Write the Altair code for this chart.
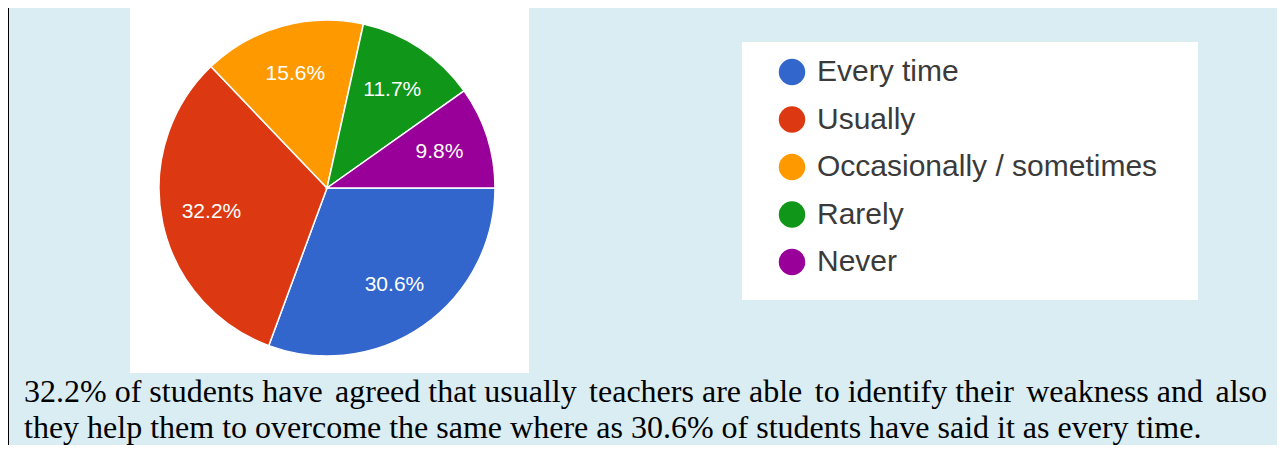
import math
import altair as alt
import pandas as pd

# ---- data ----
categories = ["Every time", "Usually", "Occasionally / sometimes", "Rarely", "Never"]
percentages = [30.6, 32.2, 15.6, 11.7, 9.8]
slice_colors = ["#3366cc", "#dc3912", "#ff9900", "#109618", "#990099"]
# first paragraph line is justified in the reference, so it is kept in pieces
line1_parts = [
    "32.2% of students have",
    "agreed that usually",
    "teachers are able",
    "to identify their",
    "weakness and",
    "also",
]
line2_text = "they help them to overcome the same where as 30.6% of students have said it as every time."

W, H = 1269, 437
BG = "#daedf3"

pie_df = pd.DataFrame({"category": categories, "pct": percentages,
                       "order": list(range(len(categories)))})
para_df = pd.DataFrame({"part": line1_parts + [line2_text],
                        "piece": list(range(len(line1_parts) + 1))})
one = pd.DataFrame({"k": [0]})

color_scale = alt.Scale(domain=categories, range=slice_colors)

# white panels
pie_box = alt.Chart(one).mark_rect(fill="white").encode(
    x=alt.value(122), x2=alt.value(521), y=alt.value(0), y2=alt.value(365))
legend_box = alt.Chart(one).mark_rect(fill="white").encode(
    x=alt.value(734), x2=alt.value(1190), y=alt.value(34), y2=alt.value(292))

# pie
base = alt.Chart(pie_df).encode(
    theta=alt.Theta("pct:Q", stack=True,
                    scale=alt.Scale(range=[math.pi / 2, math.pi / 2 + 2 * math.pi])),
    order=alt.Order("order:Q"),
)
arcs = base.mark_arc(outerRadius=168, stroke="white", strokeWidth=1.5).encode(
    color=alt.Color("category:N", scale=color_scale, legend=None),
    x=alt.value(319), y=alt.value(180),
)
slice_labels = base.transform_calculate(
    label="format(datum.pct, '.1f') + '%'"
).mark_text(radius=118, fontSize=21, font="Liberation Sans", fill="white").encode(
    text="label:N", x=alt.value(319), y=alt.value(180),
)

# legend
leg_y = alt.Y("category:N", scale=alt.Scale(domain=categories, range=[64, 254], padding=0),
              axis=None)
leg_dots = alt.Chart(pie_df).mark_circle(size=700, opacity=1).encode(
    x=alt.value(784), y=leg_y,
    color=alt.Color("category:N", scale=color_scale, legend=None),
)
leg_text = alt.Chart(pie_df).mark_text(
    align="left", baseline="middle", fontSize=30, font="Liberation Sans", color="#3a3a3a"
).encode(x=alt.value(809), y=leg_y, text="category:N")

# border line on the left
border = alt.Chart(one).mark_rule(color="black", strokeWidth=1).encode(
    x=alt.value(0.5), y=alt.value(0), y2=alt.value(H))

# paragraph text
def para_piece(i, align, x, y):
    return alt.Chart(para_df).transform_filter(f"datum.piece == {i}").mark_text(
        align=align, baseline="alphabetic", font="Liberation Serif", fontSize=32,
        color="black"
    ).encode(text="part:N", x=alt.value(x), y=alt.value(y))

Y1, Y2 = 394, 430
pieces = [
    para_piece(0, "left", 16, Y1),
    para_piece(1, "center", 447.9, Y1),
    para_piece(2, "center", 687.7, Y1),
    para_piece(3, "center", 906.3, Y1),
    para_piece(4, "center", 1106.6, Y1),
    para_piece(5, "right", 1259, Y1),
    para_piece(6, "left", 16, Y2),
]

chart = alt.layer(
    pie_box, legend_box, arcs, slice_labels, leg_dots, leg_text, border, *pieces
).properties(
    width=W, height=H, background=BG, padding=0,
    autosize=alt.AutoSizeParams(type="none"),
).configure_view(stroke=None)

chart.save("out.html", embed_options={"renderer": "svg", "actions": False})
